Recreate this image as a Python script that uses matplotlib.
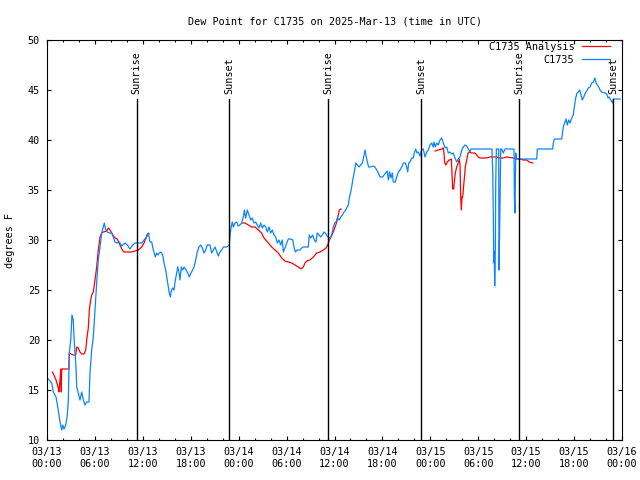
import numpy as np
import pandas as pd
import matplotlib
matplotlib.use("Agg")
import matplotlib.pyplot as plt
import matplotlib.dates as mdates

START = pd.Timestamp("2025-03-13 00:00")
END   = pd.Timestamp("2025-03-16 00:00")

# station obs: hours after 03/13 00:00 UTC, dew point (F)
obs_hours = [
    0.16, 0.59, 0.79, 1.13, 1.41, 1.63, 1.84, 1.97, 2.13, 2.38, 2.54, 2.67, 2.79, 2.97,
    3.13, 3.29, 3.42, 3.63, 3.72, 3.92, 4.13, 4.35, 4.55, 4.76, 4.97, 5.26, 5.38, 5.60,
    5.80, 6.01, 6.22, 6.42, 6.64, 6.85, 7.05, 7.18, 7.35, 7.55, 7.80, 8.10, 8.30, 8.51,
    8.80, 9.05, 9.35, 9.77, 10.06, 10.39, 10.73, 11.02, 11.65, 11.86, 12.15, 12.48, 12.68,
    12.90, 13.11, 13.31, 13.44, 13.56, 13.74, 13.90, 14.06, 14.27, 14.49, 14.65, 14.86,
    15.06, 15.19, 15.31, 15.44, 15.56, 15.74, 15.90, 16.07, 16.24, 16.37, 16.53, 16.65,
    16.82, 16.99, 17.16, 17.41, 17.62, 17.82, 18.03, 18.24, 18.41, 18.62, 18.82, 19.03,
    19.25, 19.45, 19.66, 19.87, 20.07, 20.41, 20.62, 20.82, 21.04, 21.45, 21.66, 21.88,
    22.08, 22.50, 22.83, 22.92, 23.04, 23.20, 23.33, 23.54, 23.75, 23.95, 24.16, 24.38,
    24.58, 24.71, 24.88, 25.08, 25.29, 25.51, 25.71, 25.92, 26.13, 26.33, 26.55, 26.76,
    26.96, 27.17, 27.39, 27.59, 27.80, 28.01, 28.21, 28.42, 28.64, 28.84, 29.05, 29.26,
    29.46, 29.59, 29.80, 30.02, 30.22, 30.52, 30.77, 30.93, 31.09, 31.34, 31.68, 31.89,
    32.09, 32.72, 32.84, 33.02, 33.27, 33.47, 33.68, 33.85, 34.06, 34.27, 34.47, 34.69,
    34.94, 35.15, 35.35, 35.56, 35.73, 35.85, 36.03, 36.19, 36.35, 36.56, 36.78, 36.98,
    37.19, 37.40, 37.60, 37.73, 37.85, 38.03, 38.19, 38.35, 38.53, 38.65, 38.86, 39.07,
    39.28, 39.48, 39.66, 39.82, 39.94, 40.11, 40.28, 40.45, 40.86, 41.07, 41.28, 41.49,
    41.70, 42.04, 42.20, 42.41, 42.61, 42.74, 42.91, 43.08, 43.24, 43.36, 43.61, 43.79,
    43.99, 44.20, 44.42, 44.62, 44.87, 45.04, 45.17, 45.29, 45.45, 45.67, 45.87, 45.99,
    46.17, 46.33, 46.49, 46.71, 46.92, 47.12, 47.33, 47.55, 47.75, 47.96, 48.17, 48.37,
    48.46, 48.62, 48.80, 49.00, 49.21, 49.42, 49.62, 49.84, 50.05, 50.25, 50.46, 50.68,
    50.88, 51.09, 51.30, 51.50, 51.72, 51.93, 52.13, 52.34, 52.55, 52.75, 52.97, 53.09,
    55.72, 55.81, 55.89, 55.94, 56.01, 56.06, 56.14, 56.19, 56.27, 56.56, 56.60, 56.72,
    56.81, 56.93, 57.14, 57.35, 58.48, 58.52, 58.60, 58.69, 58.77, 58.82, 61.32, 61.40,
    63.32, 63.40, 63.53, 64.45, 64.65, 64.86, 64.99, 65.15, 65.33, 65.49, 65.70, 65.90,
    66.03, 66.20, 66.37, 66.53, 66.70, 66.87, 67.03, 67.21, 67.41, 67.58, 67.78, 67.99,
    68.21, 68.41, 68.62, 68.75, 68.91, 69.08, 69.25, 69.46, 69.87, 70.09, 70.25, 70.41,
    70.59, 70.84, 70.92, 71.75,
]
obs_dewpt = [
    16.1, 15.7, 14.8, 14.3, 13.0, 11.8, 11.0, 11.5, 11.1, 11.6, 12.5, 14.0, 18.7, 20.0,
    22.5, 22.0, 19.7, 17.3, 15.3, 14.7, 14.0, 14.8, 14.0, 13.5, 13.8, 13.8, 16.7, 19.0,
    20.3, 23.0, 25.7, 28.0, 29.3, 30.7, 31.3, 31.7, 31.0, 30.8, 30.7, 30.7, 30.3, 29.8,
    29.7, 29.8, 29.4, 29.7, 29.5, 29.1, 29.5, 29.7, 29.7, 29.7, 30.0, 30.3, 30.7,
    29.8, 29.8, 29.0, 28.7, 28.3, 28.7, 28.5, 28.7, 28.8, 28.5, 27.7, 27.0,
    26.0, 25.3, 24.7, 24.3, 24.9, 25.2, 25.0, 26.0, 26.7, 27.3, 26.8, 26.0,
    27.3, 27.0, 27.3, 27.0, 26.7, 26.3, 26.7, 27.0, 27.3, 28.0, 28.8, 29.3,
    29.5, 29.2, 28.7, 29.0, 29.5, 29.5, 28.7, 29.0, 29.3, 28.4, 28.8, 29.0,
    29.3, 29.3, 29.5, 30.5, 31.2, 31.8, 31.3, 31.7, 31.8, 31.4, 31.5, 31.7,
    32.3, 33.0, 32.2, 33.0, 32.5, 32.0, 32.2, 31.7, 31.8, 31.5, 31.2, 31.7,
    31.2, 31.5, 31.3, 30.8, 31.3, 30.7, 31.0, 30.5, 30.3, 29.7, 30.0, 29.5,
    30.0, 28.8, 29.2, 29.7, 30.1, 30.1, 30.0, 29.3, 28.8, 29.0, 29.0, 29.2,
    29.3, 29.3, 30.5, 30.2, 30.5, 30.0, 29.8, 30.7, 30.5, 30.3, 30.5, 30.8,
    30.6, 30.3, 30.2, 30.3, 30.8, 31.3, 31.7, 31.8, 32.2, 32.0, 32.3, 32.5,
    32.8, 33.0, 33.3, 33.5, 34.2, 34.8, 35.5, 36.3, 37.0, 37.7, 37.5, 37.3,
    37.5, 37.7, 38.3, 39.0, 38.5, 37.8, 37.3, 37.3, 37.4, 37.3, 37.0, 36.7,
    36.3, 36.3, 36.5, 36.7, 36.9, 36.0, 36.8, 36.2, 36.7, 35.8, 35.8, 36.3,
    36.8, 37.0, 37.3, 37.7, 37.7, 37.3, 36.8, 37.7, 37.8, 38.2, 38.2, 38.7,
    39.1, 38.7, 38.8, 38.4, 39.0, 39.1, 38.3, 38.8, 39.0, 39.5, 39.7, 39.3,
    39.8, 39.3, 39.7, 39.5, 40.0, 40.2, 39.7, 39.2, 39.3, 38.7, 38.8, 38.6,
    38.7, 38.2, 37.8, 38.1, 38.3, 39.0, 39.3, 39.5, 39.4, 39.1, 38.8, 39.1,
    39.1, 36.8, 32.3, 27.7, 28.8, 25.4, 29.0, 35.8, 39.1, 39.1, 27.0, 33.2,
    39.1, 39.1, 38.7, 39.1, 39.1, 34.3, 32.7, 38.7, 38.2, 38.1, 38.1, 39.1,
    39.1, 39.7, 40.1, 40.1, 41.3, 41.8, 42.1, 41.5, 42.0, 41.7, 42.2, 42.5,
    43.3, 44.2, 44.7, 44.8, 45.0, 44.5, 44.0, 44.3, 44.7, 44.9, 45.2, 45.3,
    45.7, 45.8, 46.2, 45.7, 45.5, 45.3, 45.0, 44.8, 44.7, 44.6, 44.2, 44.3,
    44.0, 43.7, 44.1, 44.1,
]

# analysis: gaps marked with nan
ana_hours = [
    0.66, 0.81, 1.13, 1.41, 1.50, 1.63, 1.72, 1.79, 1.84, 2.75, 2.79, 3.01, 3.29, 3.59,
    3.72, 3.92, 4.13, 4.35, 4.63, 4.85, 4.97, 5.17, 5.30, 5.47, 5.60, 5.80, 6.01, 6.22,
    6.42, 6.64, 6.85, 7.05, 7.48, 7.68, 7.89, 8.10, 8.51, 8.80, 9.14, 9.43, 9.64, 10.61,
    11.02, 11.43, 11.86, 12.15, 12.40, 12.56, 12.77,
    18.0,
    24.51, 24.79, 25.21, 25.63, 26.05, 26.46, 26.88, 27.09, 27.39, 27.71, 28.14, 28.55,
    28.96, 29.39, 29.80, 30.22, 30.64, 31.05, 31.47, 31.81, 32.09, 32.31, 32.52, 32.93,
    33.35, 33.77, 34.18, 34.60, 34.94, 35.15, 35.35, 35.56, 35.85, 36.06, 36.28, 36.48,
    36.61, 36.81,
    42.0,
    48.59, 49.00, 49.42, 49.62, 49.71, 49.80, 49.96, 50.12, 50.37, 50.63, 50.71, 50.80,
    50.93, 51.00, 51.13, 51.30, 51.50, 51.63, 51.72, 51.80, 51.88, 51.97, 52.05, 52.13,
    52.25, 52.38, 52.55, 52.72, 52.88, 53.18, 53.59, 53.81, 54.01, 54.22, 55.06, 55.47,
    56.31, 56.72, 57.14, 57.56, 58.39, 58.82, 59.23, 59.64, 60.07, 60.39, 60.82,
]
ana_dewpt = [
    16.8, 16.6, 16.0, 15.2, 14.8, 16.0, 17.1, 14.8, 17.1, 17.1, 18.7, 18.6, 18.5, 18.5,
    19.3, 19.2, 18.8, 18.6, 18.6, 19.0, 20.0, 21.2, 23.0, 24.0, 24.5, 24.8, 26.0, 27.3,
    29.0, 30.3, 30.7, 30.8, 30.9, 31.2, 31.0, 30.7, 30.2, 30.1, 29.5, 29.0, 28.8, 28.8,
    28.9, 29.0, 29.3, 29.7, 30.2, 30.6, 30.6,
    np.nan,
    31.7, 31.7, 31.5, 31.3, 31.3, 31.0, 30.7, 30.3, 30.0, 29.7, 29.3, 29.0,
    28.7, 28.2, 27.9, 27.8, 27.7, 27.5, 27.3, 27.1, 27.3, 27.7, 27.9, 28.0,
    28.3, 28.7, 28.8, 29.0, 29.2, 29.5, 30.0, 30.3, 30.8, 31.3, 31.8, 32.5,
    33.0, 33.1,
    np.nan,
    38.9, 39.0, 39.1, 39.2, 38.7, 37.7, 37.5, 37.8, 38.0, 38.1, 36.7, 35.1,
    35.1, 35.8, 36.7, 37.3, 37.7, 38.1, 37.5, 34.3, 33.0, 34.3, 34.3, 35.0,
    36.0, 37.3, 38.0, 38.7, 38.8, 38.7, 38.7, 38.5, 38.3, 38.2, 38.2, 38.3,
    38.3, 38.2, 38.2, 38.3, 38.2, 38.1, 38.1, 38.0, 38.0, 37.8, 37.7,
]

sun_times  = ["2025-03-13 11:14", "2025-03-13 22:50", "2025-03-14 11:13",
              "2025-03-14 22:52", "2025-03-15 11:08", "2025-03-15 22:55"]
sun_labels = ["Sunrise", "Sunset", "Sunrise", "Sunset", "Sunrise", "Sunset"]

plt.rcParams["font.family"] = ["DejaVu Sans Mono"]
FS = 7.3

obs_t = START + pd.to_timedelta(obs_hours, unit="h")
ana_t = START + pd.to_timedelta(ana_hours, unit="h")

fig = plt.figure(figsize=(6.4, 4.8), dpi=100)
ax = fig.add_axes([47 / 640, 40 / 480, 575 / 640, 400 / 480])

ax.plot(ana_t, ana_dewpt, color="#ff0000", lw=0.9, label="C1735 Analysis")
ax.plot(obs_t, obs_dewpt, color="#0a84ff", lw=0.9, label="C1735")

for t, lbl in zip(sun_times, sun_labels):
    t = pd.Timestamp(t)
    ax.plot([t, t], [10, 44.1], color="black", lw=1.0)
    ax.text(t, 44.6, lbl, rotation=90, ha="center", va="bottom", fontsize=FS)

ax.set_xlim(START, END)
ax.set_ylim(10, 50)
ax.set_yticks(range(10, 51, 5))
ax.xaxis.set_major_locator(mdates.HourLocator(byhour=range(0, 24, 6)))
ax.xaxis.set_minor_locator(mdates.HourLocator(byhour=range(0, 24, 2)))
ax.xaxis.set_major_formatter(mdates.DateFormatter("%m/%d\n%H:%M"))

ax.tick_params(which="both", direction="in", top=True, right=True, labelsize=FS, width=0.8)
ax.tick_params(which="major", length=3.2, pad=5)
ax.tick_params(which="minor", length=1.6)
for s in ax.spines.values():
    s.set_linewidth(0.8)

ax.set_title("Dew Point for C1735 on 2025-Mar-13 (time in UTC)", fontsize=FS, pad=11)
ax.set_ylabel("degrees F", fontsize=FS)
ax.yaxis.set_label_coords(-0.056, 0.5)

ax.legend(loc="upper right", bbox_to_anchor=(0.979, 0.995), frameon=False, fontsize=FS,
          markerfirst=False, handlelength=2.8, handletextpad=0.7, labelspacing=0.3,
          borderaxespad=0, borderpad=0)

fig.savefig("out.png", dpi=100)
